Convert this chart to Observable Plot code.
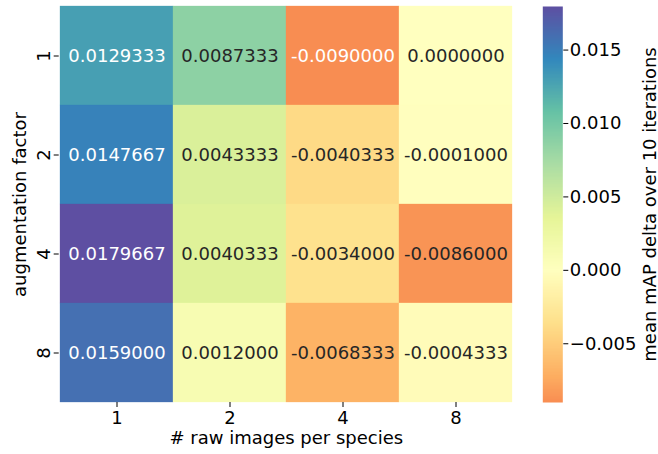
<!DOCTYPE html>
<html>
<head>
<meta charset="utf-8">
<script src="https://cdn.jsdelivr.net/npm/d3@7"></script>
<script src="https://cdn.jsdelivr.net/npm/@observablehq/plot@0.6"></script>
<style>
  body { margin: 0; background: #ffffff; }
  #chart { position: relative; width: 658px; height: 454px; }
  #chart svg { position: absolute; left: 0; top: 0; }
</style>
</head>
<body>
<div id="chart"></div>
<script>
// Column and row categories
const rawImagesPerSpecies = ["1", "2", "4", "8"];
const augmentationFactors = ["1", "2", "4", "8"];

// Mean mAP delta for each augmentation factor (one entry per raw-image count)
const deltaAug1 = [0.0129333, 0.0087333, -0.0090000, 0.0000000];
const deltaAug2 = [0.0147667, 0.0043333, -0.0040333, -0.0001000];
const deltaAug4 = [0.0179667, 0.0040333, -0.0034000, -0.0086000];
const deltaAug8 = [0.0159000, 0.0012000, -0.0068333, -0.0004333];

// Colour bar tick values
const colorbarTicks = [-0.005, 0.000, 0.005, 0.010, 0.015];

const xLabel = "# raw images per species";
const yLabel = "augmentation factor";
const colorbarLabel = "mean mAP delta over 10 iterations";

// ColorBrewer Spectral, linearly interpolated in RGB
const spectralStops = ["#9e0142", "#d53e4f", "#f46d43", "#fdae61", "#fee08b", "#ffffbf",
                       "#e6f598", "#abdda4", "#66c2a5", "#3288bd", "#5e4fa2"];
const spectral = d3.piecewise(d3.interpolateRgb, spectralStops);

const rows = [deltaAug1, deltaAug2, deltaAug4, deltaAug8];
const cells = augmentationFactors.flatMap((aug, i) =>
  rawImagesPerSpecies.map((raw, j) => ({aug, raw, value: rows[i][j]})));

const vmin = d3.min(cells, d => d.value);
const vmax = d3.max(cells, d => d.value);

// Diverging scale centred on zero (symmetric around the pivot)
const colorOptions = {type: "diverging", pivot: 0, domain: [vmin, vmax], interpolate: spectral};
const colorScale = Plot.scale({color: colorOptions});

// Relative luminance decides between light and dark annotation text
function luminance(c) {
  const {r, g, b} = d3.rgb(c);
  const lin = v => { v /= 255; return v <= 0.03928 ? v / 12.92 : Math.pow((v + 0.055) / 1.055, 2.4); };
  return 0.2126 * lin(r) + 0.7152 * lin(g) + 0.0722 * lin(b);
}
const isDarkCell = d => luminance(colorScale.apply(d.value)) <= 0.408;

const W = 658, H = 454;
const font = {fontFamily: "'DejaVu Sans', sans-serif", fontSize: "18px", background: "transparent", color: "#000"};
const frame = {marginTop: 6, marginBottom: 52};

const heatmap = Plot.plot({
  width: W, height: H,
  marginLeft: 58.7, marginRight: 145, ...frame,
  style: font,
  x: {type: "band", domain: rawImagesPerSpecies, padding: 0},
  y: {type: "band", domain: augmentationFactors, padding: 0},
  color: colorOptions,
  marks: [
    Plot.cell(cells, {x: "raw", y: "aug", fill: "value", stroke: "value", strokeWidth: 0.3}),
    Plot.text(cells.filter(isDarkCell), {x: "raw", y: "aug", text: d => d.value.toFixed(7), fill: "#ffffff", fontSize: 18, dy: 0.5}),
    Plot.text(cells.filter(d => !isDarkCell(d)), {x: "raw", y: "aug", text: d => d.value.toFixed(7), fill: "#262626", fontSize: 18, dy: 0.5}),
    Plot.axisX({tickSize: 5, tickPadding: 4, label: null}),
    Plot.axisY({tickSize: 5, tickPadding: 4, tickRotate: -90, label: null}),
    Plot.text([xLabel], {text: d => d, frameAnchor: "bottom", textAnchor: "middle", dy: 41, lineAnchor: "bottom"}),
    Plot.text([yLabel], {text: d => d, frameAnchor: "left", textAnchor: "middle", rotate: -90, dx: -33.7, lineAnchor: "bottom"})
  ]
});

const colorbar = Plot.plot({
  width: W, height: H,
  marginLeft: 542.3, marginRight: 95.7, ...frame,
  style: font,
  x: {domain: [0, 1], axis: null},
  y: {domain: [vmin, vmax], axis: null},
  color: colorOptions,
  marks: [
    Plot.raster({x1: 0, x2: 1, y1: vmin, y2: vmax, width: 1, height: 256, fill: (x, y) => y}),
    Plot.axisY({anchor: "right", ticks: colorbarTicks, tickFormat: d3.format(".3f"), tickSize: 5, tickPadding: 2, label: null}),
    Plot.text([colorbarLabel], {text: d => d, frameAnchor: "right", textAnchor: "middle", rotate: -90, dx: 92.7, lineAnchor: "bottom"})
  ]
});

document.getElementById("chart").append(heatmap, colorbar);
</script>
</body>
</html>
